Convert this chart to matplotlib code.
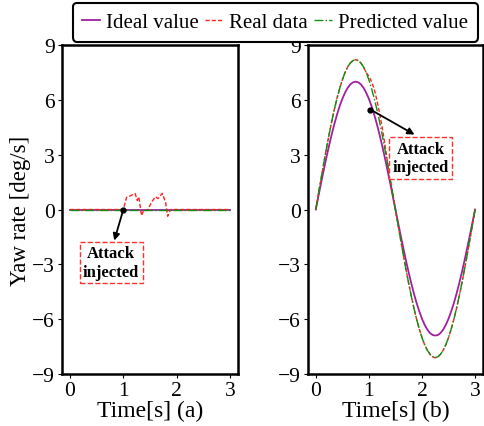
import matplotlib
matplotlib.use("Agg")
import matplotlib.pyplot as plt
from matplotlib.lines import Line2D

plt.rcParams['font.family'] = ['Liberation Serif', 'DejaVu Serif']
plt.rcParams['mathtext.fontset'] = 'stix'

# time base for the sine test (b), 0.05 s steps
t_b = [i * 0.05 for i in range(61)]

ideal_b = [0, 0.73, 1.46, 2.16, 2.85, 3.50, 4.11, 4.68, 5.20, 5.66, 6.06, 6.39, 6.66, 6.85, 6.96, 7.00,
           6.96, 6.85, 6.66, 6.39, 6.06, 5.66, 5.20, 4.68, 4.11, 3.50, 2.85, 2.16, 1.46, 0.73, 0,
           -0.72, -1.44, -2.13, -2.81, -3.45, -4.06, -4.62, -5.13, -5.58, -5.98, -6.31, -6.57, -6.76, -6.87, -6.90,
           -6.87, -6.76, -6.57, -6.31, -5.98, -5.58, -5.13, -4.62, -4.06, -3.45, -2.81, -2.13, -1.44, -0.72, 0]

pred_b = [0, 0.86, 1.70, 2.53, 3.33, 4.10, 4.82, 5.49, 6.09, 6.63, 7.10, 7.49, 7.80, 8.02, 8.15, 8.20,
          8.15, 8.02, 7.80, 7.49, 7.10, 6.63, 6.09, 5.49, 4.82, 4.10, 3.33, 2.53, 1.70, 0.86, 0,
          -0.85, -1.68, -2.50, -3.29, -4.05, -4.76, -5.42, -6.02, -6.55, -7.01, -7.40, -7.70, -7.92, -8.06, -8.10,
          -8.06, -7.92, -7.70, -7.40, -7.01, -6.55, -6.02, -5.42, -4.76, -4.05, -3.29, -2.50, -1.68, -0.85, 0]

real_b = [0, 0.86, 1.70, 2.53, 3.33, 4.10, 4.82, 5.49, 6.09, 6.63, 7.10, 7.49, 7.80, 8.02, 8.15, 8.20,
          8.15, 8.02, 7.80, 7.49, 7.30, 7.00, 6.60, 6.00, 5.30, 4.50, 3.60, 2.60, 1.70, 0.86, 0,
          -0.85, -1.68, -2.50, -3.29, -4.05, -4.76, -5.42, -6.02, -6.55, -7.01, -7.40, -7.70, -7.92, -8.06, -8.12,
          -8.08, -7.92, -7.70, -7.40, -7.01, -6.55, -6.02, -5.42, -4.76, -4.05, -3.29, -2.50, -1.68, -0.85, 0]

# constant test (a)
t_a = [0, 3]
ideal_a = [0, 0]
pred_a = [0, 0]
t_real_a = [0, 1.0, 1.06, 1.13, 1.22, 1.26, 1.29, 1.34, 1.38, 1.45, 1.53, 1.60, 1.65, 1.73, 1.79, 1.83, 1.88, 1.93, 3.0]
real_a = [0, 0, 0.66, 0.75, 0.88, 0.50, 0.70, -0.33, -0.05, -0.05, 0.40, 0.70, 0.60, 0.88, 0.40, -0.37, 0, 0, 0]

# attack point, arrow head and label centre for each panel
attack_a = (1.0, 0.0)
head_a = (0.83, -1.7)
text_a = (0.77, -2.9)
attack_b = (1.03, 5.47)
head_b = (1.86, 4.1)
text_b = (1.98, 2.82)

c_ideal = '#a020a0'
c_real = '#ff2020'
c_pred = '#109010'

fig = plt.figure(figsize=(4.84, 4.27), dpi=100)
ax1 = fig.add_axes([0.128, 0.122, 0.364, 0.770])
ax2 = fig.add_axes([0.636, 0.122, 0.362, 0.770])


def draw(ax, t_i, yi, t_r, yr, t_p, yp, pt, head, txt, xlabel):
    ax.plot(t_i, yi, color=c_ideal, lw=1.3, zorder=2)
    ax.plot(t_r, yr, color=c_real, lw=1.0, ls='--', dashes=(3, 1.5), zorder=3)
    ax.plot(t_p, yp, color=c_pred, lw=1.0, ls='-.', zorder=4)
    ax.plot([pt[0]], [pt[1]], 'o', color='black', ms=3.5, zorder=6)
    ax.annotate('', xy=head, xytext=pt,
                arrowprops=dict(arrowstyle='-|>', color='black', lw=1.3, mutation_scale=10,
                                shrinkA=0, shrinkB=0),
                zorder=7)
    ax.text(txt[0], txt[1], 'Attack\ninjected', ha='center', va='center',
            fontsize=12, fontweight='bold', linespacing=1.2,
            bbox=dict(boxstyle='square,pad=0.2', fc='white', ec='#ff3030', ls='--', lw=1.0),
            zorder=7)
    ax.set_ylim(-9, 9)
    ax.set_xlim(-0.15, 3.15)
    ax.set_yticks([-9, -6, -3, 0, 3, 6, 9])
    ax.set_xticks([0, 1, 2, 3])
    ax.tick_params(labelsize=15.5, length=3, width=0.8, pad=2)
    for s in ax.spines.values():
        s.set_linewidth(1.8)
    ax.set_xlabel(xlabel, fontsize=17, labelpad=0)


draw(ax1, t_a, ideal_a, t_real_a, real_a, t_a, pred_a, attack_a, head_a, text_a, 'Time[s] (a)')
draw(ax2, t_b, ideal_b, t_b, real_b, t_b, pred_b, attack_b, head_b, text_b, 'Time[s] (b)')
ax1.set_ylabel('Yaw rate [deg/s]', fontsize=16.5, labelpad=1)

handles = [Line2D([], [], color=c_ideal, lw=1.3),
           Line2D([], [], color=c_real, lw=1.0, ls='--', dashes=(3, 1.5)),
           Line2D([], [], color=c_pred, lw=1.0, ls='-.')]
leg = fig.legend(handles, ['Ideal value', 'Real data', 'Predicted value'], loc='upper center',
                 bbox_to_anchor=(0.569, 0.99), ncol=3, fontsize=15, handlelength=0.85,
                 handletextpad=0.3, columnspacing=0.3, borderpad=0.45, borderaxespad=0,
                 fancybox=True, edgecolor='black', framealpha=1)
leg.get_frame().set_linewidth(1.5)

fig.savefig('out.png', dpi=100)
